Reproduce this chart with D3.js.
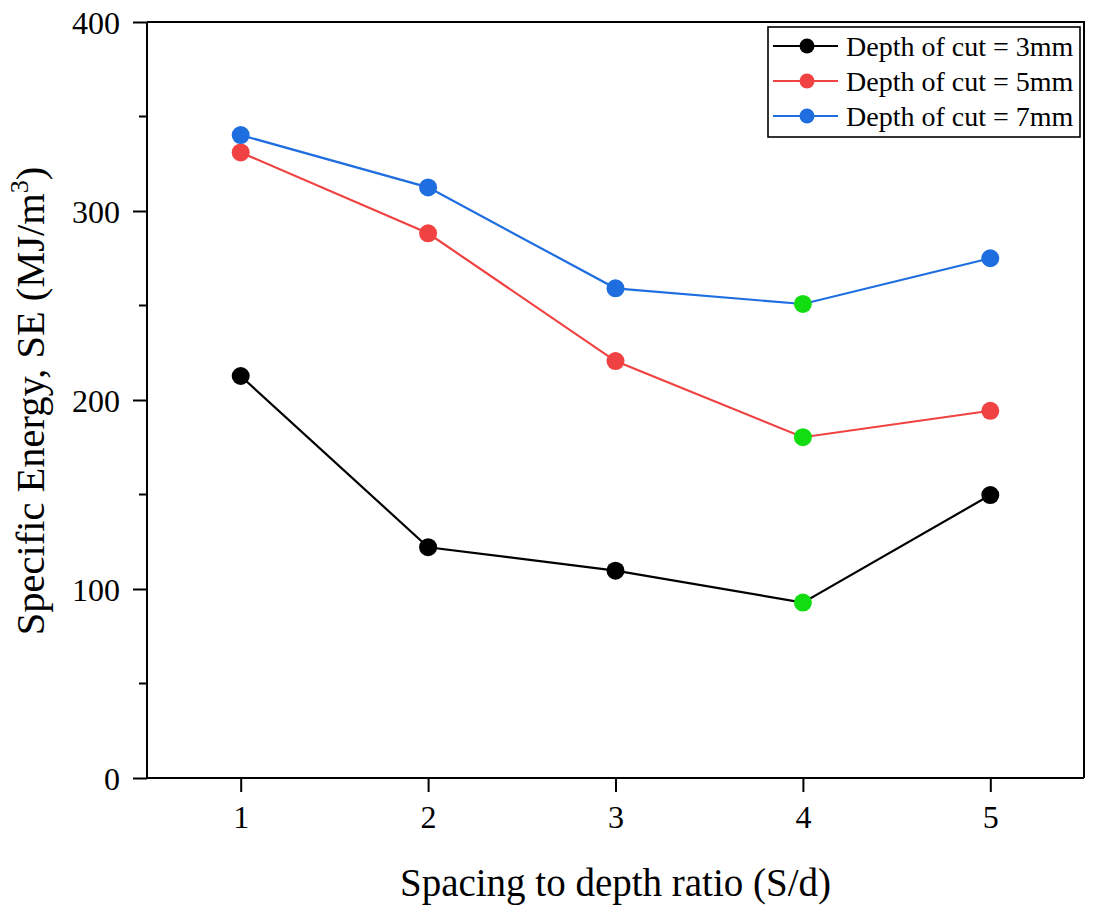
<!DOCTYPE html>
<html>
<head>
<meta charset="utf-8">
<script src="https://cdn.jsdelivr.net/npm/d3@7"></script>
<style>
  html, body { margin: 0; padding: 0; background: #fff; }
  svg { display: block; }
  text { font-family: "Liberation Serif", "Times New Roman", serif; fill: #000; }
</style>
</head>
<body>
<svg id="chart" width="1111" height="920"></svg>
<script>
// ---- data ----
const ratios = [1, 2, 3, 4, 5];
const depth3 = [212.7, 122.1, 109.7, 92.8, 149.7];
const depth5 = [331, 288.2, 220.6, 180.3, 194.3];
const depth7 = [340.2, 312.5, 259.1, 250.8, 275];
const seriesNames = ["Depth of cut = 3mm", "Depth of cut = 5mm", "Depth of cut = 7mm"];
const seriesColors = ["#000000", "#F04242", "#1E6EE0"];
const highlightRatio = 4;          // optimum point drawn in green
const highlightColor = "#11DD11";
const yTicks = [0, 100, 200, 300, 400];
const yMinorTicks = [50, 150, 250, 350];
const xTicks = [1, 2, 3, 4, 5];
const xTitle = "Spacing to depth ratio (S/d)";

const seriesValues = [depth3, depth5, depth7];

// ---- layout ----
const svg = d3.select("#chart");
const M = { left: 147, top: 22, right: 1084, bottom: 778 };

const x = d3.scaleLinear().domain([0.5, 5.5]).range([M.left, M.right]);
const y = d3.scaleLinear().domain([0, 400]).range([M.bottom, M.top]);

// frame (top & right)
svg.append("path")
  .attr("d", `M${M.left},${M.top}H${M.right}V${M.bottom}`)
  .attr("fill", "none").attr("stroke", "#000").attr("stroke-width", 2);

// x axis
const xAxis = svg.append("g").attr("transform", `translate(0,${M.bottom})`)
  .call(d3.axisBottom(x).tickValues(xTicks).tickSize(14).tickPadding(0).tickFormat(d3.format("d")));
xAxis.select(".domain").attr("stroke-width", 2).attr("d", `M${M.left},0H${M.right}`);
xAxis.selectAll(".tick line").attr("stroke-width", 2);
xAxis.selectAll(".tick text").attr("y", 50).attr("dy", null)
  .style("font-size", "32px").style("font-family", "'Liberation Serif', serif");

// y axis
const yAxis = svg.append("g").attr("transform", `translate(${M.left},0)`)
  .call(d3.axisLeft(y).tickValues(yTicks).tickSize(14).tickPadding(13).tickFormat(d3.format("d")));
yAxis.select(".domain").attr("stroke-width", 2).attr("d", `M0,${M.bottom + 1}V${M.top}`);
yAxis.selectAll(".tick line").attr("stroke-width", 2);
yAxis.selectAll(".tick text").attr("dy", "0.35em")
  .style("font-size", "32px").style("font-family", "'Liberation Serif', serif");

// y minor ticks
svg.append("g").selectAll("line").data(yMinorTicks).join("line")
  .attr("x1", M.left - 8).attr("x2", M.left)
  .attr("y1", d => y(d)).attr("y2", d => y(d))
  .attr("stroke", "#000").attr("stroke-width", 2);

// series
const line = d3.line().x((d, i) => x(ratios[i])).y(d => y(d));
seriesValues.forEach((vals, s) => {
  svg.append("path").datum(vals)
    .attr("d", line).attr("fill", "none")
    .attr("stroke", seriesColors[s]).attr("stroke-width", 2.2);
  svg.append("g").selectAll("circle").data(vals).join("circle")
    .attr("cx", (d, i) => x(ratios[i])).attr("cy", d => y(d)).attr("r", 9)
    .attr("fill", (d, i) => ratios[i] === highlightRatio ? highlightColor : seriesColors[s]);
});

// axis titles
svg.append("text")
  .attr("x", (M.left + M.right) / 2).attr("y", 896)
  .attr("text-anchor", "middle").style("font-size", "39px")
  .text(xTitle);

const yt = svg.append("text")
  .attr("transform", `translate(44,${(M.top + M.bottom) / 2 + 1}) rotate(-90)`)
  .attr("text-anchor", "middle").style("font-size", "40.5px");
yt.append("tspan").text("Specific Energy, SE (MJ/m");
yt.append("tspan").text("3").style("font-size", "26px").attr("dy", "-16");
yt.append("tspan").text(")").attr("dy", "16");

// legend
const lg = svg.append("g");
lg.append("rect").attr("x", 768).attr("y", 27).attr("width", 312).attr("height", 110)
  .attr("fill", "#fff").attr("stroke", "#000").attr("stroke-width", 1.6);
const rowY = [46, 81, 116];
seriesNames.forEach((name, s) => {
  const g = lg.append("g").attr("transform", `translate(0,${rowY[s]})`);
  g.append("line").attr("x1", 773).attr("x2", 838).attr("y1", 0).attr("y2", 0)
    .attr("stroke", seriesColors[s]).attr("stroke-width", 2.2);
  g.append("circle").attr("cx", 807).attr("cy", 0).attr("r", 7.5).attr("fill", seriesColors[s]);
  g.append("text").attr("x", 846).attr("y", 0).attr("dy", "0.35em")
    .style("font-size", "28px").text(name);
});
</script>
</body>
</html>
